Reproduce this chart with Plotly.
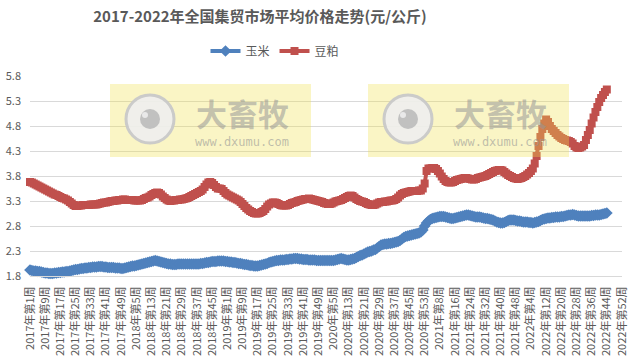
import plotly.graph_objects as go

years = [2017, 2018, 2019, 2020, 2021, 2022]
weeks_in_year = [52, 52, 52, 53, 52, 52]
week_labels = [f"{y}年第{w}周" for y, n in zip(years, weeks_in_year) for w in range(1, n + 1)]
tick_labels = week_labels[::8]

corn_2017 = [1.92, 1.91, 1.90, 1.90, 1.89, 1.89, 1.88, 1.87, 1.86, 1.86,
             1.85, 1.85, 1.85, 1.86, 1.86, 1.87, 1.87, 1.88, 1.88, 1.89,
             1.89, 1.90, 1.91, 1.92, 1.93, 1.93, 1.94, 1.95, 1.95, 1.96,
             1.96, 1.97, 1.97, 1.98, 1.98, 1.98, 1.99, 1.99, 1.99, 1.98,
             1.98, 1.97, 1.97, 1.97, 1.97, 1.96, 1.96, 1.96, 1.95, 1.95,
             1.96, 1.97]
corn_2018 = [1.98, 1.99, 2.00, 2.00, 2.01, 2.02, 2.03, 2.04, 2.05, 2.06,
             2.07, 2.08, 2.09, 2.10, 2.11, 2.10, 2.09, 2.08, 2.07, 2.06,
             2.05, 2.04, 2.04, 2.03, 2.03, 2.03, 2.04, 2.04, 2.04, 2.04,
             2.04, 2.04, 2.04, 2.04, 2.04, 2.04, 2.04, 2.04, 2.05, 2.05,
             2.06, 2.07, 2.07, 2.08, 2.09, 2.09, 2.09, 2.10, 2.10, 2.10,
             2.10, 2.09]
corn_2019 = [2.09, 2.08, 2.08, 2.07, 2.07, 2.06, 2.05, 2.05, 2.04, 2.03,
             2.03, 2.02, 2.01, 2.01, 2.00, 2.00, 2.00, 2.01, 2.02, 2.03,
             2.04, 2.05, 2.07, 2.08, 2.09, 2.10, 2.11, 2.11, 2.12, 2.12,
             2.12, 2.13, 2.13, 2.14, 2.14, 2.15, 2.15, 2.15, 2.14, 2.14,
             2.13, 2.13, 2.13, 2.12, 2.12, 2.12, 2.12, 2.11, 2.11, 2.11,
             2.11, 2.11]
corn_2020 = [2.11, 2.11, 2.11, 2.11, 2.11, 2.12, 2.13, 2.14, 2.15, 2.14,
             2.13, 2.12, 2.12, 2.13, 2.14, 2.15, 2.17, 2.19, 2.21, 2.22,
             2.24, 2.26, 2.28, 2.29, 2.30, 2.32, 2.33, 2.36, 2.39, 2.42,
             2.43, 2.44, 2.44, 2.45, 2.45, 2.46, 2.47, 2.48, 2.49, 2.51,
             2.54, 2.57, 2.59, 2.60, 2.61, 2.62, 2.63, 2.64, 2.65, 2.66,
             2.68, 2.72, 2.80]
corn_2021 = [2.86, 2.90, 2.93, 2.95, 2.96, 2.97, 2.98, 2.99, 2.99, 2.99,
             2.98, 2.97, 2.96, 2.95, 2.95, 2.96, 2.97, 2.98, 2.99, 3.00,
             3.01, 3.02, 3.02, 3.01, 3.00, 2.99, 2.98, 2.98, 2.98, 2.97,
             2.96, 2.95, 2.95, 2.94, 2.93, 2.92, 2.90, 2.88, 2.87, 2.86,
             2.86, 2.87, 2.89, 2.91, 2.92, 2.92, 2.92, 2.91, 2.90, 2.90,
             2.89, 2.88]
corn_2022 = [2.88, 2.88, 2.87, 2.87, 2.86, 2.87, 2.88, 2.89, 2.91, 2.93,
             2.94, 2.95, 2.96, 2.96, 2.97, 2.97, 2.98, 2.98, 2.98, 2.99,
             2.99, 3.00, 3.01, 3.02, 3.02, 3.03, 3.02, 3.01, 3.00, 3.00,
             3.00, 3.00, 3.00, 3.00, 3.00, 3.01, 3.01, 3.02, 3.02, 3.02,
             3.03, 3.04, 3.05, 3.06]

meal_2017 = [3.68, 3.67, 3.65, 3.63, 3.61, 3.59, 3.57, 3.55, 3.53, 3.51,
             3.49, 3.47, 3.45, 3.43, 3.42, 3.40, 3.38, 3.36, 3.35, 3.33,
             3.31, 3.28, 3.25, 3.22, 3.20, 3.20, 3.21, 3.21, 3.22, 3.22,
             3.22, 3.22, 3.23, 3.23, 3.23, 3.23, 3.24, 3.25, 3.26, 3.27,
             3.27, 3.28, 3.29, 3.30, 3.30, 3.31, 3.31, 3.32, 3.32, 3.33,
             3.33, 3.32]
meal_2018 = [3.32, 3.32, 3.32, 3.31, 3.31, 3.31, 3.31, 3.32, 3.34, 3.36,
             3.37, 3.39, 3.42, 3.44, 3.46, 3.47, 3.46, 3.43, 3.39, 3.36,
             3.33, 3.31, 3.30, 3.31, 3.31, 3.32, 3.32, 3.33, 3.33, 3.34,
             3.35, 3.36, 3.38, 3.40, 3.42, 3.44, 3.46, 3.48, 3.50, 3.53,
             3.58, 3.63, 3.67, 3.68, 3.66, 3.62, 3.58, 3.55, 3.55, 3.54,
             3.50, 3.46]
meal_2019 = [3.43, 3.41, 3.39, 3.37, 3.35, 3.33, 3.31, 3.28, 3.24, 3.20,
             3.16, 3.13, 3.10, 3.08, 3.06, 3.05, 3.05, 3.06, 3.08, 3.10,
             3.14, 3.19, 3.23, 3.25, 3.27, 3.27, 3.26, 3.24, 3.22, 3.21,
             3.21, 3.21, 3.22, 3.24, 3.26, 3.27, 3.28, 3.30, 3.31, 3.32,
             3.33, 3.34, 3.34, 3.35, 3.34, 3.33, 3.32, 3.31, 3.30, 3.29,
             3.28, 3.26]
meal_2020 = [3.25, 3.24, 3.24, 3.25, 3.27, 3.29, 3.30, 3.31, 3.32, 3.34,
             3.36, 3.38, 3.40, 3.41, 3.40, 3.37, 3.34, 3.32, 3.30, 3.29,
             3.28, 3.26, 3.24, 3.23, 3.22, 3.22, 3.23, 3.25, 3.27, 3.28,
             3.28, 3.29, 3.29, 3.30, 3.31, 3.31, 3.32, 3.34, 3.37, 3.41,
             3.44, 3.46, 3.47, 3.48, 3.49, 3.50, 3.50, 3.50, 3.50, 3.51,
             3.51, 3.55, 3.65]
meal_2021 = [3.90, 3.95, 3.95, 3.96, 3.96, 3.94, 3.90, 3.85, 3.79, 3.74,
             3.70, 3.68, 3.67, 3.67, 3.68, 3.70, 3.72, 3.73, 3.74, 3.75,
             3.76, 3.76, 3.75, 3.74, 3.73, 3.73, 3.74, 3.76, 3.77, 3.78,
             3.79, 3.80, 3.82, 3.84, 3.86, 3.88, 3.90, 3.91, 3.92, 3.92,
             3.91, 3.88, 3.85, 3.82, 3.80, 3.78, 3.76, 3.75, 3.74, 3.75,
             3.76, 3.78]
meal_2022 = [3.80, 3.83, 3.86, 3.90, 3.95, 4.05, 4.20, 4.40, 4.58, 4.74,
             4.85, 4.93, 4.88, 4.80, 4.74, 4.70, 4.66, 4.62, 4.59, 4.56,
             4.54, 4.52, 4.51, 4.50, 4.48, 4.45, 4.40, 4.37, 4.36, 4.37,
             4.39, 4.42, 4.52, 4.62, 4.72, 4.85, 4.97, 5.08, 5.18, 5.28,
             5.36, 5.42, 5.48, 5.53]

corn = corn_2017 + corn_2018 + corn_2019 + corn_2020 + corn_2021 + corn_2022
meal = meal_2017 + meal_2018 + meal_2019 + meal_2020 + meal_2021 + meal_2022

y_ticks = [1.8, 2.3, 2.8, 3.3, 3.8, 4.3, 4.8, 5.3, 5.8]

GRAY = "#595959"
FONT = "Noto Sans CJK SC"

fig = go.Figure()
fig.add_trace(go.Scatter(
    x=week_labels[:len(corn)], y=corn, name="玉米", mode="lines+markers",
    line=dict(color="#4f81bd", width=4),
    marker=dict(symbol="diamond", size=9, color="#4f81bd"),
    cliponaxis=False))
fig.add_trace(go.Scatter(
    x=week_labels[:len(meal)], y=meal, name="豆粕", mode="lines+markers",
    line=dict(color="#c0504d", width=4),
    marker=dict(symbol="square", size=8, color="#c0504d"),
    cliponaxis=False))

# plot area in pixels
L, R, T, B = 30, 622, 76, 276
W, H = R - L, B - T


def px(x):
    return (x - L) / W


def py(y):
    return (B - y) / H


shapes = []
annotations = []
for bx in (110, 368):
    top, bot = 84, 157
    shapes.append(dict(type="rect", xref="paper", yref="paper", layer="above",
                       x0=px(bx), x1=px(bx + 201), y0=py(bot), y1=py(top),
                       fillcolor="rgba(240,226,80,0.33)", line=dict(width=0)))
    cx, cy, r = bx + 40, 119, 24
    shapes.append(dict(type="circle", xref="paper", yref="paper", layer="above",
                       x0=px(cx - r), x1=px(cx + r), y0=py(cy + r), y1=py(cy - r),
                       fillcolor="rgba(238,238,238,0.9)",
                       line=dict(color="rgba(200,200,200,0.95)", width=3)))
    r2 = 10
    shapes.append(dict(type="circle", xref="paper", yref="paper", layer="above",
                       x0=px(cx - r2), x1=px(cx + r2), y0=py(cy + r2), y1=py(cy - r2),
                       fillcolor="rgba(190,190,190,0.95)", line=dict(width=0)))
    r3 = 3
    shapes.append(dict(type="circle", xref="paper", yref="paper", layer="above",
                       x0=px(cx - 5 - r3), x1=px(cx - 5 + r3), y0=py(cy - 4 + r3), y1=py(cy - 4 - r3),
                       fillcolor="rgba(235,235,235,0.95)", line=dict(width=0)))
    annotations.append(dict(text="<b>大畜牧</b>", xref="paper", yref="paper",
                            x=px(bx + 132), y=py(112), showarrow=False,
                            xanchor="center", yanchor="middle",
                            font=dict(family=FONT, size=31, color="rgba(150,150,150,0.55)")))
    annotations.append(dict(text="www.dxumu.com", xref="paper", yref="paper",
                            x=px(bx + 132), y=py(142), showarrow=False,
                            xanchor="center", yanchor="middle",
                            font=dict(family="DejaVu Sans Mono", size=12, color="rgba(150,150,150,0.6)")))

fig.update_layout(
    width=634, height=363,
    margin=dict(l=L, r=634 - R, t=T, b=363 - B, autoexpand=False),
    paper_bgcolor="white", plot_bgcolor="white",
    font=dict(family=FONT, color=GRAY, size=11),
    title=dict(text="2017-2022年全国集贸市场平均价格走势(元/公斤)",
               xref="container", yref="container", x=260 / 634, y=1 - 17 / 363,
               xanchor="center", yanchor="middle",
               font=dict(family=FONT, size=15, color=GRAY, weight=700)),
    legend=dict(orientation="h", x=px(275), y=py(51), xanchor="center", yanchor="middle",
                font=dict(family=FONT, size=12, color=GRAY), itemwidth=30,
                bgcolor="rgba(0,0,0,0)"),
    showlegend=True,
    xaxis=dict(type="category", categoryorder="array", categoryarray=week_labels,
               range=[0, len(week_labels) - 1], automargin=False,
               tickmode="array", tickvals=tick_labels, ticktext=tick_labels,
               tickangle=-90, tickfont=dict(family=FONT, size=11, color=GRAY),
               showgrid=False, showline=True, linecolor="#d9d9d9", linewidth=1,
               ticks="", zeroline=False, ticklabelstandoff=5),
    yaxis=dict(range=[1.8, 5.8], tickmode="array", tickvals=y_ticks, automargin=False,
               ticktext=[f"{v:.1f}" for v in y_ticks],
               tickfont=dict(family=FONT, size=11, color=GRAY),
               showgrid=True, gridcolor="#d9d9d9", gridwidth=1,
               zeroline=False, showline=False, ticks="", ticklabelstandoff=8),
    shapes=shapes, annotations=annotations,
)

fig.write_html("out.html", post_script="document.body.style.margin='0';",
               config={"displayModeBar": False})
